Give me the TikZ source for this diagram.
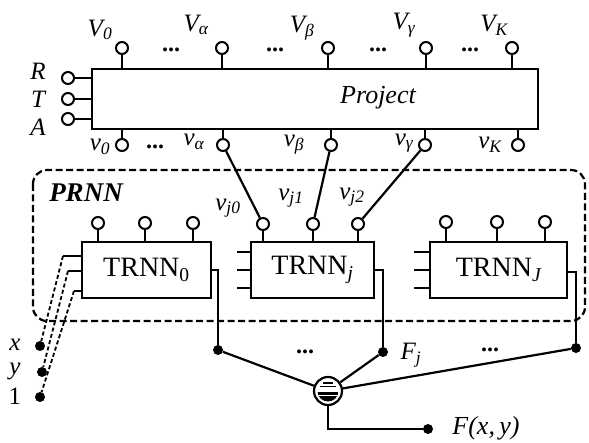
\documentclass[tikz,border=0pt]{standalone}
\usepackage{fontspec}
\setmainfont{Liberation Serif}
\begin{document}
\begin{tikzpicture}[x=1pt,y=-1pt,
  ln/.style={line width=2.2pt},
  term/.style={circle,draw,line width=2pt,minimum size=12pt,inner sep=0pt,fill=white},
  blk/.style={draw,line width=2.5pt,rectangle,inner sep=0pt,fill=white},
  jn/.style={circle,fill,minimum size=10pt,inner sep=0pt},
  lbl/.style={font=\fontsize{25}{25}\selectfont\itshape,inner sep=0pt},
  big/.style={font=\fontsize{28}{28}\selectfont,inner sep=0pt},
  dts/.style={font=\fontsize{24}{24}\selectfont\bfseries,inner sep=0pt},
  dsh/.style={line width=1.8pt,dash pattern=on 4pt off 2.5pt},
  frame/.style={line width=2.2pt,dash pattern=on 7pt off 3.5pt,rounded corners=14pt}]
\useasboundingbox (0,0) rectangle (589,443);

% PRNN frame
\draw[frame] (33,170) rectangle (585,321);
\node[font=\fontsize{27}{27}\selectfont\bfseries\itshape,inner sep=0pt] (prnn) at (86,193) {PRNN};

% Project block
\node[blk,minimum width=446pt,minimum height=60pt] (P) at (315,99) {};
\node[font=\fontsize{26}{26}\selectfont\itshape,inner sep=0pt] (ptxt) at (378,98) {Project};

% top terminals V
\foreach \n/\x in {V0/122,Va/222,Vb/328,Vg/426,VK/512}{
  \node[term] (\n) at (\x,48) {};
  \draw[ln] (\n) -- (\n |- P.north);
}
\node[lbl] (lV0) at (100,30) {V\textsubscript{0}};
\node[lbl] (lVa) at (196,25) {V\textsubscript{α}};
\node[lbl] (lVb) at (302,28) {V\textsubscript{β}};
\node[lbl] (lVg) at (404,25) {V\textsubscript{γ}};
\node[lbl] (lVK) at (494,25) {V\textsubscript{K}};
\node[dts] (d1) at (171,50) {...};
\node[dts] (d2) at (275,50) {...};
\node[dts] (d3) at (378,50) {...};
\node[dts] (d4) at (470,50) {...};

% R T A
\foreach \n/\y in {R/78,T/99,A/119}{
  \node[term] (\n) at (68,\y) {};
  \draw[ln] (\n) -- (\n -| P.west);
}
\node[lbl] (lR) at (38,71) {R};
\node[lbl] (lT) at (38,99) {T};
\node[lbl] (lA) at (38,127) {A};

% bottom terminals v
\foreach \n/\x in {v0/122,va/223,vb/331,vg/425,vK/518}{
  \node[term] (\n) at (\x,145) {};
  \draw[ln] (\n) -- (\n |- P.south);
}
\node[lbl] (lv0) at (100,147) {v\textsubscript{0}};
\node[dts] (d5) at (155,147) {...};
\node[lbl] (lva) at (194,142) {v\textsubscript{α}};
\node[lbl] (lvb) at (294,145) {v\textsubscript{β}};
\node[lbl] (lvg) at (404,143) {v\textsubscript{γ}};
\node[lbl] (lvK) at (490,145) {v\textsubscript{K}};

% TRNN blocks
\node[blk,minimum width=129pt,minimum height=56pt] (T0) at (146.5,270) {};
\node[big] (t0txt) at (146.5,270) {TRNN\textsubscript{0}};
\node[blk,minimum width=123pt,minimum height=56pt] (Tj) at (312.5,270) {};
\node[big] (tjtxt) at (312.5,270) {TRNN\textsubscript{\itshape j}};
\node[blk,minimum width=137pt,minimum height=56pt] (TJ) at (498.5,270) {};
\node[big] (tJtxt) at (498.5,270) {TRNN\textsubscript{\itshape J}};

% terminals on TRNN blocks
\foreach \n/\x/\b/\y in {a1/98/T0/223,a2/145/T0/223,a3/193/T0/223,
                        j0/263/Tj/224,j1/313/Tj/224,j2/358/Tj/224,
                        c1/446/TJ/222,c2/497/TJ/222,c3/545/TJ/222}{
  \node[term] (\n) at (\x,\y) {};
  \draw[ln] (\n) -- (\n |- \b.north);
}
\node[lbl] (lj0) at (228,208) {v\textsubscript{j0}};
\node[lbl] (lj1) at (291,198) {v\textsubscript{j1}};
\node[lbl] (lj2) at (352,197) {v\textsubscript{j2}};

% connections Project -> TRNNj
\draw[ln] (va) -- (j0);
\draw[ln] (vb) -- (j1);
\draw[ln] (vg) -- (j2);

% left stubs
\coordinate (s01) at (63,256);
\coordinate (s02) at (68,271);
\coordinate (s03) at (74,291);
\foreach \s in {s01,s02,s03}{ \draw[ln] (\s) -- (\s -| T0.west); }
\foreach \n/\y in {sj1/252,sj2/270,sj3/288}{
  \coordinate (\n) at (237,\y);
  \draw[ln] (\n) -- (\n -| Tj.west);
}
\foreach \n/\y in {sJ1/252,sJ2/270,sJ3/288}{
  \coordinate (\n) at (414,\y);
  \draw[ln] (\n) -- (\n -| TJ.west);
}

% inputs
\node[jn] (ix) at (40,346) {};
\node[jn] (iy) at (42,372) {};
\node[jn] (i1) at (40,397) {};
\node[lbl] (lx) at (15,345) {x};
\node[lbl] (ly) at (15,371) {y};
\node[font=\fontsize{25}{25}\selectfont,inner sep=0pt] (l1) at (15,396) {1};
\draw[dsh] (s01) -- (ix);
\draw[dsh] (s02) -- (iy);
\draw[dsh] (s03) -- (i1);

% outputs
\node[jn] (o0) at (218,350) {};
\node[jn] (oj) at (383,352) {};
\node[jn] (oJ) at (576,348) {};
\draw[ln] (T0.east |- 0,270) -- (o0 |- 0,270) -- (o0);
\draw[ln] (Tj.east |- 0,270) -- (oj |- 0,270) -- (oj);
\draw[ln] (TJ.east |- 0,272) -- (oJ |- 0,272) -- (oJ);
\node[dts] (d6) at (305,352) {...};
\node[dts] (d7) at (490,350) {...};
\node[lbl] (lFj) at (411,355) {F\textsubscript{j}};

% summation node
\node[circle,draw,line width=2.2pt,minimum size=28pt,inner sep=0pt,fill=white] (S) at (328,391) {};
\draw[ln] (o0) -- (S);
\draw[ln] (oj) -- (S);
\draw[ln] (oJ) -- (S);
\begin{scope}[shift={(S.center)}]
  \clip (0,0) circle (10.5pt);
  \fill (-11,1) rectangle (11,11);
  \draw[white,line width=1.3pt] (-11,4.5) -- (11,4.5);
  \draw[line width=1.3pt] (-8,-4.5) -- (8,-4.5);
  \draw[line width=1.3pt] (-5,-8) -- (5,-8);
\end{scope}
\node[jn] (out) at (428,429) {};
\draw[ln] (S) -- (S |- out) -- (out);
\node[font=\fontsize{26}{26}\selectfont\itshape,inner sep=0pt] (lF) at (486,428) {F(x,\,y)};
\end{tikzpicture}
\end{document}
